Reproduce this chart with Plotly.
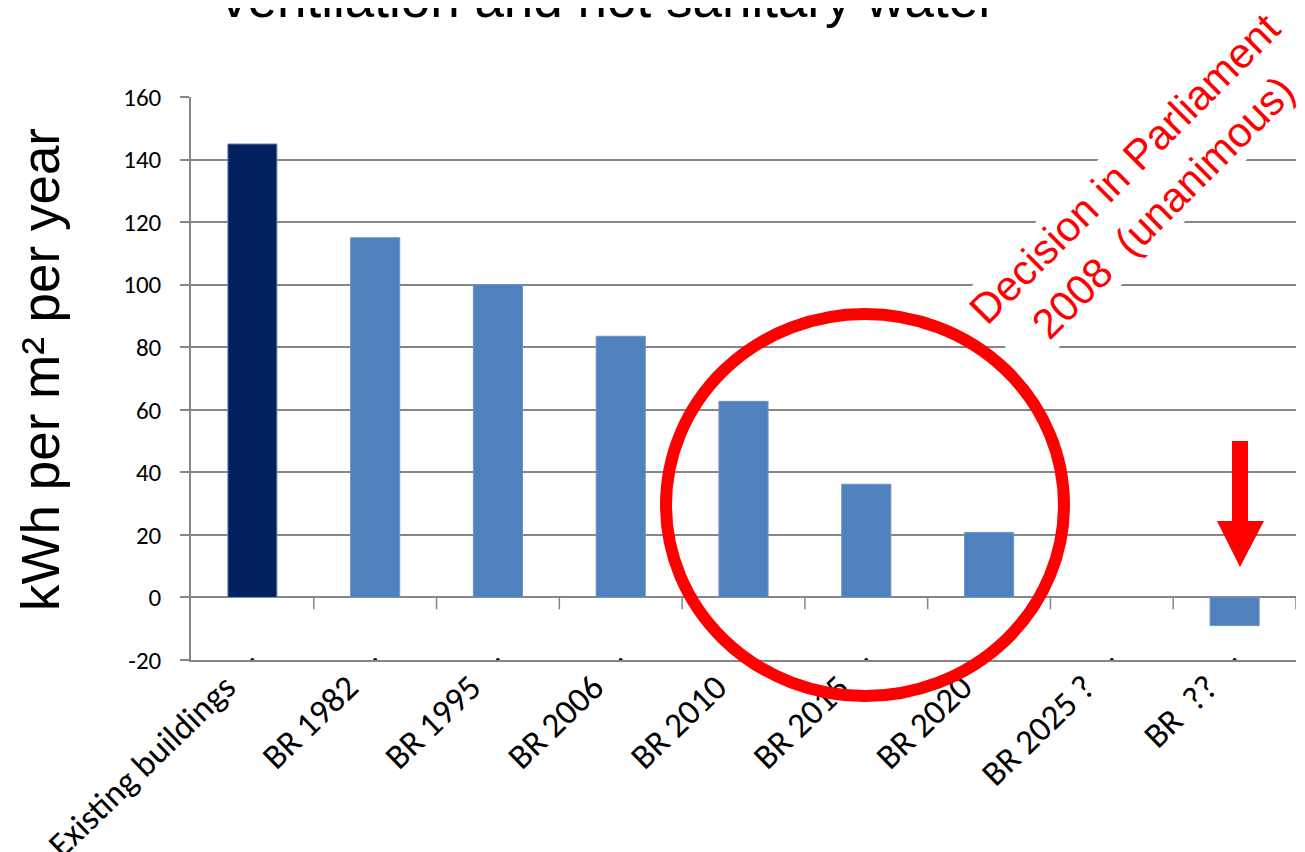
import plotly.graph_objects as go

# ---- data ----
categories = ["Existing buildings", "BR 1982", "BR 1995", "BR 2006", "BR 2010",
              "BR 2015", "BR 2020", "BR 2025 ?", "BR  ??"]
values = [145, 115, 100, 83.5, 62.7, 36.2, 20.8, None, -9]
bar_colors = ["#002060"] + ["#4F81BD"] * 8
y_ticks = [-20, 0, 20, 40, 60, 80, 100, 120, 140, 160]
y_tick_labels = ["-20", "0", "20", "40", "60", "80", "100", "120", "140", "160"]
y_min, y_max = -20, 160

title_text = "ventilation and not sanitary water"
y_title = "kWh per m² per year"
note_text = "Decision in Parliament<br>2008\u00a0\u00a0(unanimous)"

# ---- layout geometry (screen pixels) ----
W, H = 1305, 852
OFF = 8  # default body margin of the page
L, R, T, B = 191, 1296, 97, 660
PW, PH = R - L, B - T


def px(x):
    return (x - L) / PW


def py(y):
    return (B - y) / PH


GRID = "#868686"
TICK_FONT = "Carlito, Lato, 'Noto Sans', sans-serif"
ARIAL = "'Liberation Sans', Arial, sans-serif"

fig = go.Figure()
fig.add_trace(go.Bar(
    x=categories, y=values, width=0.4,
    marker=dict(color=bar_colors, line=dict(color="#6E93C8", width=1)),
    hoverinfo="skip",
))
fig.add_trace(go.Scatter(
    x=categories, y=[y_min] * len(categories), mode="markers",
    marker=dict(color="black", size=4), cliponaxis=False, hoverinfo="skip",
))

shapes = []
# category separator ticks on the zero line
for i in range(len(categories)):
    shapes.append(dict(type="line", xref="x", yref="y", x0=i + 0.5, x1=i + 0.5,
                       y0=0, y1=-3.8, line=dict(color=GRID, width=1.5)))
# red circle (paper coords, unclipped)
shapes.append(dict(type="circle", xref="paper", yref="paper",
                   x0=px(666), x1=px(1064), y0=py(696), y1=py(314),
                   line=dict(color="#FF0000", width=12)))
# red down arrow
pts = [(1232, 441), (1248, 441), (1248, 521), (1264, 521), (1240, 567),
       (1217, 521), (1232, 521)]
path = "M " + " L ".join(f"{px(a):.5f},{py(b):.5f}" for a, b in pts) + " Z"
shapes.append(dict(type="path", xref="paper", yref="paper", path=path,
                   fillcolor="#FF0000", line=dict(width=0)))

annotations = [
    dict(text=title_text, xref="paper", yref="paper", x=px(608), y=py(-1),
         xanchor="center", yanchor="middle", showarrow=False,
         font=dict(family=ARIAL, size=53, color="black")),
    dict(text=y_title, xref="paper", yref="paper", x=px(40), y=py(370),
         xanchor="center", yanchor="middle", textangle=-90, showarrow=False,
         font=dict(family=ARIAL, size=53, color="black")),
    dict(text=note_text, xref="paper", yref="paper", x=px(1144), y=py(188),
         xanchor="center", yanchor="middle", textangle=-45, showarrow=False,
         align="center", bgcolor="white",
         font=dict(family=ARIAL, size=42, color="#FF0000")),
]

fig.update_layout(
    width=W - OFF, height=H - OFF,
    margin=dict(l=L - OFF, r=W - R, t=T - OFF, b=H - B, pad=0, autoexpand=False),
    paper_bgcolor="white", plot_bgcolor="white",
    showlegend=False, bargap=0.6,
    shapes=shapes, annotations=annotations,
    xaxis=dict(
        type="category", showgrid=False, showline=True, linecolor=GRID, linewidth=1.5,
        tickangle=-44, ticks="", tickfont=dict(family=TICK_FONT, size=35, color="black"),
        ticklabelshift=-27, ticklabelstandoff=-9,
        range=[-0.5, len(categories) - 0.5], fixedrange=True, automargin=False,
    ),
    yaxis=dict(
        range=[y_min, y_max], tickvals=y_ticks, ticktext=y_tick_labels,
        showgrid=True, gridcolor=GRID, gridwidth=1.5,
        showline=True, linecolor=GRID, linewidth=1.5, ticks="outside", ticklen=9,
        tickcolor=GRID, tickwidth=1.5, zeroline=True, zerolinecolor=GRID, zerolinewidth=1.5,
        tickfont=dict(family=TICK_FONT, size=25, color="black"), ticklabelstandoff=14,
        fixedrange=True, automargin=False,
    ),
)

fig.write_html("out.html")
